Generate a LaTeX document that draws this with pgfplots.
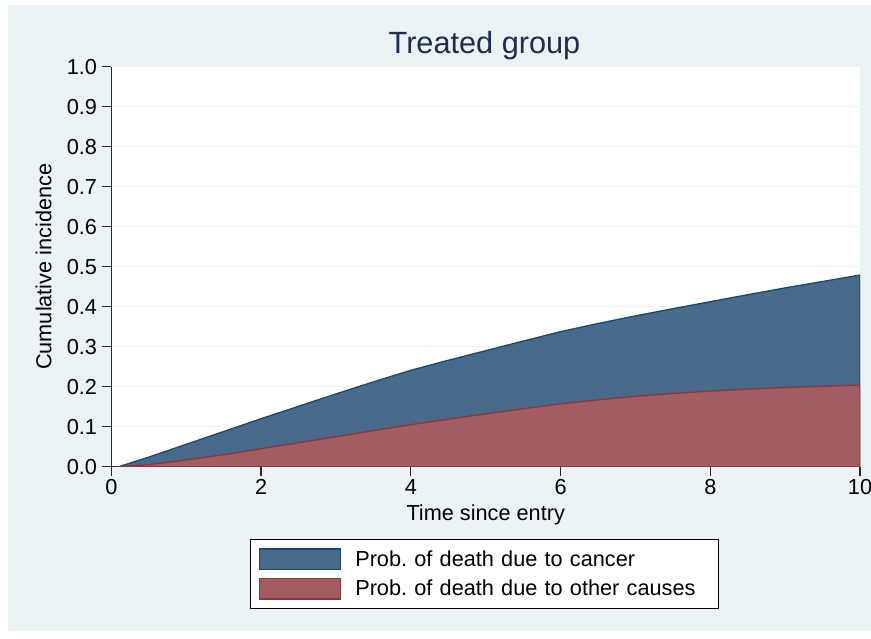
\documentclass[border=0pt]{standalone}
\usepackage{fontspec}
\setmainfont{Liberation Sans}
\usepackage{pgfplots}
\pgfplotsset{compat=1.18}
\frenchspacing
\definecolor{bgc}{RGB}{234,242,243}
\definecolor{gridc}{RGB}{234,242,243}
\definecolor{navyline}{RGB}{26,71,111}
\definecolor{navyfill}{RGB}{72,107,140}
\definecolor{maroonline}{RGB}{144,53,59}
\definecolor{maroonfill}{RGB}{162,93,98}
\definecolor{titlec}{RGB}{30,45,80}
\definecolor{axc}{RGB}{40,40,40}
\newcommand{\bodyfont}{\fontsize{21.7}{26}\selectfont}
\begin{document}
\begin{tikzpicture}
\fill[bgc] (8pt,8pt) rectangle (871pt,634pt);
\begin{axis}[
  at={(111.4pt,172.3pt)}, anchor=south west,
  scale only axis, width=748.6pt, height=400pt,
  xmin=0, xmax=10, ymin=0, ymax=1,
  xtick={0,2,4,6,8,10},
  ytick={0,0.1,0.2,0.3,0.4,0.5,0.6,0.7,0.8,0.9,1.0},
  yticklabel style={/pgf/number format/fixed, /pgf/number format/fixed zerofill, /pgf/number format/precision=1},
  /pgf/number format/assume math mode=true,
  ticklabel style={font=\bodyfont, text=black},
  yticklabel style={inner sep=0pt, xshift=-4.7pt},
  xticklabel style={inner sep=0pt, yshift=-3.3pt},
  axis x line*=bottom, axis y line*=left,
  axis line style={axc, line width=1.3pt},
  tick style={axc, line width=1.3pt},
  major tick length=9.5pt, tick align=outside,
  ymajorgrids, grid style={gridc, line width=1.5pt},
  axis background/.style={fill=white},
  xlabel={Time since entry},
  ylabel={Cumulative incidence},
  label style={font=\bodyfont},
  xlabel style={at={(axis description cs:0.5,-0.1345)}, anchor=base},
  ylabel style={at={(axis description cs:-0.0907,0.5)}, anchor=center},
  title={Treated group},
  title style={font=\fontsize{30.7}{36}\selectfont, text=titlec, at={(axis description cs:0.4984,1.019)}, anchor=base},
  legend style={at={(axis description cs:0.4986,-0.268)}, anchor=center,
    draw=black, line width=1pt, fill=white,
    inner xsep=8.6pt, inner ysep=9pt, row sep=7.3pt, column sep=14.3pt,
    nodes={inner sep=0pt, anchor=west, text width=355pt, align=left, font=\bodyfont}},
  legend cell align=left,
  legend image code/.code={\draw[#1, line width=1.3pt] (0.65pt,-10.35pt) rectangle (81.35pt,10.35pt);},
]
\addplot[draw=navyline, fill=navyfill, line width=1.3pt] coordinates {
(0.1,0) (0.5,0.024) (1,0.056) (1.5,0.088) (2,0.12) (2.5,0.151) (3,0.182) (3.5,0.212) (4,0.241) (4.5,0.266) (5,0.29) (5.5,0.314) (6,0.3375) (6.5,0.358) (7,0.377) (7.5,0.395) (8,0.4125) (8.5,0.43) (9,0.447) (9.5,0.463) (10,0.479)
} \closedcycle;
\addlegendentry{Prob. of death due to cancer}
\addplot[draw=maroonline, fill=maroonfill, line width=1.3pt] coordinates {
(0.1,0) (0.5,0.005) (1,0.017) (1.5,0.03) (2,0.045) (2.5,0.06) (3,0.075) (3.5,0.09) (4,0.105) (4.5,0.119) (5,0.132) (5.5,0.145) (6,0.157) (6.5,0.167) (7,0.176) (7.5,0.183) (8,0.189) (8.5,0.194) (9,0.198) (9.5,0.201) (10,0.204)
} \closedcycle;
\addlegendentry{Prob. of death due to other causes}
\end{axis}
\pgfresetboundingbox
\path (0,0) rectangle (871pt,639pt);
\end{tikzpicture}
\end{document}
